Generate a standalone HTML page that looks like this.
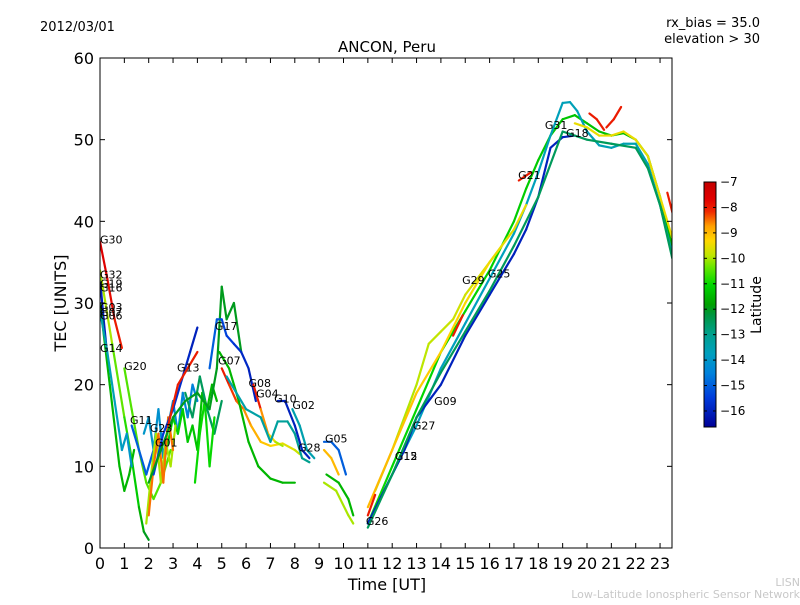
<!DOCTYPE html>
<html><head><meta charset="utf-8"><style>
body{margin:0;background:#fff;width:800px;height:600px;overflow:hidden;font-family:"Liberation Sans","DejaVu Sans",sans-serif}
svg text{font-family:"DejaVu Sans","Liberation Sans",sans-serif}
</style></head><body>
<svg id="chart" width="800" height="600" xmlns="http://www.w3.org/2000/svg">
<rect width="800" height="600" fill="#fff"/>
<text x="40" y="31" font-size="13">2012/03/01</text>
<text x="760" y="27" font-size="13" text-anchor="end">rx_bias = 35.0</text>
<text x="760" y="43" font-size="13" text-anchor="end">elevation &gt; 30</text>
<text x="387" y="52" font-size="15" text-anchor="middle">ANCON, Peru</text>
<text transform="translate(66,303) rotate(-90)" font-size="16" text-anchor="middle">TEC [UNITS]</text>
<text x="387" y="590" font-size="16" text-anchor="middle">Time [UT]</text>
<text x="800" y="586" font-size="11" fill="#c8c8c8" text-anchor="end">LISN</text>
<text x="800" y="598" font-size="11" fill="#c8c8c8" text-anchor="end">Low-Latitude Ionospheric Sensor Network</text>
<g id="marks"></g>
<g id="axes"></g>
<g id="cbar"></g>
</svg>
<script>
const xTicks=[0,1,2,3,4,5,6,7,8,9,10,11,12,13,14,15,16,17,18,19,20,21,22,23];
const yTicks=[0,10,20,30,40,50,60];
const cbTicks=[-7,-8,-9,-10,-11,-12,-13,-14,-15,-16];
const trackTimes=[
[0,0.3,0.6,0.9],
[0,0.15,0.3],
[0,0.5,1,1.3,1.6,1.8,2.0],
[0,0.4,0.8,1.0,1.2,1.4],
[0,0.3,0.6,0.9,1.1,1.3],
[1,1.3,1.6,1.9,2.2,2.5,2.9],
[1.3,1.6,1.9,2.2],
[1.8,2.0,2.2,2.4,2.6,2.8,3.0,3.2,3.4,3.6,3.8,4.0],
[2.6,2.8,3.0,3.2,3.4,3.6,3.8,4.0,4.2,4.4,4.6,4.8],
[1.9,2.1,2.3,2.5,2.7,2.9,3.1],
[2.0,2.2,2.4,2.6,2.8,3.0],
[3.5,3.8,4.1,4.4,4.7,5.0],
[3.9,4.1,4.3,4.5,4.7],
[2.2,2.6,3.0,3.4,3.7,4.0],
[2.8,3.2,3.6,4.0],
[2,2.5,3,3.5,4,4.5,4.8,5.0,5.2,5.5,5.8],
[4.5,4.8,5.0,5.2,5.5,5.8,6.1,6.4],
[5.0,5.3,5.6,5.9,6.2,6.6,7.0,7.5,8.0,8.2],
[6.3,6.6,6.9,7.2,7.5],
[4.9,5.3,5.7,6.1,6.5,7.0,7.5,8.0],
[5.2,5.6,6.0,6.6,7.0,7.3,7.7,8.0,8.3,8.6],
[7.3,7.6,8.0,8.3,8.6],
[7.9,8.2,8.5,8.8],
[9.2,9.5,9.8,10.1],
[9.2,9.5,9.8],
[9.3,9.8,10.2,10.4],
[9.2,9.7,10.2,10.4],
[11,12,13,14,15,16,17,17.5,18,18.5,19,19.5,20,20.5,21,21.5,22,22.5,23,23.5],
[11,12,13,14,15,16,17,17.5,18,18.5,19,19.3,19.6,20,20.5,21,21.5,22,22.5,23,23.5],
[11,11.5,12.5,13,14,15,16,17,17.5,18,18.5,19,19.5],
[11.3,12,13,13.5,14,14.5,15,15.5,16,16.5,17,17.5],
[11,12,13,14,15,16,16.5],
[19.5,20,20.5,21,21.5,22,22.5,23,23.5],
[20.8,21.1,21.4],
[20.1,20.4,20.7],
[11,11.3],
[14.5,14.9],
[17.2,17.7],
[23.3,23.6],
[11,12,13,14,15,16,17,18,19,20,21,22,22.5,23,23.5]
];
const trackValues=[
[37.5,33,28,24.5],
[33,28,23.5],
[34,25,16,11,5,2,1],
[30,20,10,7,9,12],
[29,24,18,12,14,10],
[22,17,12,8,6,8,12],
[15,12,9,12],
[14,16,12,17,11,15,18,14,19,16,20,18],
[10,13,16,14,17,13,15,12,19,17,20,18],
[3,9,14,8,13,10,15],
[4,10,14,8,16,12],
[19,16,21,17,14,18],
[8,14,18,10,16],
[9,14,17,21,24,27],
[15,20,22,24],
[8,12,16,18,19,17,22,32,28,30,24],
[22,28,28,26,25,24,22,18],
[22,20,18,17,15,13,12.5,12.8,12,11.5],
[20,17,14,13,12.5],
[24,22,18,13,10,8.5,8,8],
[21,19,17,16,13,15.5,15.5,14,11,10.5],
[18,18,15,12,11],
[17,15,12,11],
[13,13,12,9],
[12,11,9],
[9,8,6,4],
[8,7,4,3],
[3,10,17,24,29,34,40,44,47.5,50.5,52.5,53,52,51,50.5,50.8,50,48,43,37],
[3,9,15,22,27.5,33,38.5,42,46,50.5,54.5,54.6,53.5,51,49.3,49,49.5,49.5,47,42,36],
[3,6,12,16,20,26,31,36,39,43,49,50.3,50.5],
[7,12,20,25,26.5,28,31,33,35,37,39,42],
[5,12,19,24,30,35,37],
[52,51.5,50.5,50.5,51,50,48,43,38],
[51.5,52.5,54],
[53.2,52.5,51.2],
[4,6.5],
[26,28.5],
[45,46],
[43.5,40],
[2.5,9,16,21.5,26.5,31.5,37,43,51,50,49.5,49,46.5,42,35.5]
];
const trackLatStart=[-7.6,-16,-10,-11.5,-13.5,-10.5,-15,-14,-11,-10,-8.5,-12.5,-11,-15.5,-8,-12,-15,-8,-8,-11.5,-13.5,-16,-13.5,-15,-9,-11.5,-10,-11,-13.8,-16,-10,-9,-9.5,-8,-8,-8,-8,-8,-8,-12.5];
const trackLatEnd=[-8,-16,-12,-11.5,-14,-10.5,-15,-14.5,-11.5,-10,-8.5,-12.5,-11,-16,-8,-12,-16,-9.8,-10,-11.5,-13,-16,-13.5,-15,-9,-11.5,-10,-11.5,-13.5,-16,-9.5,-9.5,-9.5,-8,-8,-8,-8,-8,-8,-12.5];
const labelNames=["G30","G32","G19","G16","G03","G07","G06","G14","G20","G11","G23","G01","G13","G17","G07","G08","G04","G10","G02","G28","G05","G26","G15","G12","G27","G09","G29","G25","G21","G31","G18"];
const labelT=[0,0,0,0,0,0,0,0,0.99,1.23,2.05,2.26,3.16,4.72,4.85,6.1,6.41,7.15,7.9,8.13,9.24,10.92,12.11,12.11,12.85,13.72,14.87,15.93,17.17,18.27,19.14];
const labelV=[37.3,33.0,31.9,31.4,29.0,28.4,28.0,24.0,21.8,15.2,14.2,12.4,21.6,26.7,22.5,19.7,18.4,17.8,17.0,11.8,12.9,2.8,10.8,10.8,14.5,17.5,32.3,33.1,45.2,51.3,50.3];

const X0=100,X1=672,Y0=548,Y1=58;
const xs=t=>X0+t*24.35;
const ys=v=>Y0-v*(Y0-Y1)/60;
const cbTop=182,cbBot=427,cbMax=-7,cbMin=-16.63;
const cy=l=>cbBot-(l-cbMin)/(cbMax-cbMin)*(cbBot-cbTop);
// colormap stops (position 0..1 from bottom, rgb)
const CM=[[0,[0,0,150]],[0.12,[0,60,220]],[0.22,[0,130,220]],[0.3,[0,160,190]],[0.38,[0,160,140]],[0.46,[0,150,60]],[0.5,[0,160,0]],[0.58,[0,215,0]],[0.65,[100,230,0]],[0.7,[190,230,0]],[0.76,[255,215,0]],[0.82,[255,160,0]],[0.88,[240,40,0]],[0.93,[225,0,0]],[1,[195,0,0]]];
function cmap(n){n=Math.max(0,Math.min(1,n));
 for(let i=0;i<CM.length-1;i++){const a=CM[i],b=CM[i+1];
  if(n<=b[0]){const f=(n-a[0])/(b[0]-a[0]);const c=a[1].map((v,k)=>Math.round(v+(b[1][k]-v)*f));return `rgb(${c[0]},${c[1]},${c[2]})`;}}
 return 'rgb(195,0,0)';}
const latColor=l=>cmap((l-cbMin)/(cbMax-cbMin));
const NS="http://www.w3.org/2000/svg";
function mk(tag,attrs,parent){const e=document.createElementNS(NS,tag);for(const k in attrs)e.setAttribute(k,attrs[k]);parent.appendChild(e);return e;}
const marks=document.getElementById('marks');
const clip=mk('clipPath',{id:'pc'},marks);mk('rect',{x:X0,y:Y1,width:X1-X0,height:Y0-Y1},clip);
const mg=mk('g',{'clip-path':'url(#pc)'},marks);
trackTimes.forEach((tt,i)=>{
 const vv=trackValues[i];
 const g=mk('g',{},mg);
 
 
 for(let j=0;j<tt.length-1;j++){
  const f=tt.length>2?j/(tt.length-2):0;
  const lat=trackLatStart[i]+(trackLatEnd[i]-trackLatStart[i])*f;
  const s=mk('line',{x1:xs(tt[j]),y1:ys(vv[j]),x2:xs(tt[j+1]),y2:ys(vv[j+1]),stroke:latColor(lat),'stroke-width':2.2,'stroke-linecap':'round'},g);
  
  
 }
});
labelNames.forEach((n,i)=>{
 const t=mk('text',{x:xs(labelT[i]),y:ys(labelV[i]),'font-size':11},mg);
 
 
 t.textContent=n;
});
const ax=document.getElementById('axes');
const fr=mk('rect',{x:X0,y:Y1,width:X1-X0,height:Y0-Y1,fill:'none',stroke:'#000','stroke-width':1},ax);


xTicks.forEach(t=>{
 const x=xs(t);
 mk('line',{x1:x,y1:Y0,x2:x,y2:Y0-5,stroke:'#000'},ax);
 mk('line',{x1:x,y1:Y1,x2:x,y2:Y1+5,stroke:'#000'},ax);
 const l=mk('text',{x:x,y:Y0+21,'font-size':16,'text-anchor':'middle'},ax);
 
 
 l.textContent=t;
});
yTicks.forEach(v=>{
 const y=ys(v);
 mk('line',{x1:X0,y1:y,x2:X0+5,y2:y,stroke:'#000'},ax);
 mk('line',{x1:X1,y1:y,x2:X1-5,y2:y,stroke:'#000'},ax);
 const l=mk('text',{x:X0-6,y:y+6,'font-size':16,'text-anchor':'end'},ax);
 
 
 l.textContent=v;
});
const cb=document.getElementById('cbar');
const defs=mk('defs',{},cb);
const grad=mk('linearGradient',{id:'cbg',x1:0,y1:1,x2:0,y2:0},defs);
CM.forEach(s=>{mk('stop',{offset:s[0],'stop-color':`rgb(${s[1].join(',')})`},grad);});
const cbr=mk('rect',{x:704,y:cbTop,width:12,height:cbBot-cbTop,fill:'url(#cbg)',stroke:'#000','stroke-width':1},cb);


cbTicks.forEach(l=>{
 const y=cy(l);
 mk('line',{x1:704,y1:y,x2:707,y2:y,stroke:'#000'},cb);
 mk('line',{x1:716,y1:y,x2:713,y2:y,stroke:'#000'},cb);
 const t=mk('text',{x:720,y:y+4,'font-size':12},cb);
 
 
 t.textContent='\u2212'+Math.abs(l);
});
const ct=mk('text',{transform:'translate(761,305) rotate(-90)','font-size':14,'text-anchor':'middle'},cb);


ct.textContent='Latitude';
</script>
</body></html>
